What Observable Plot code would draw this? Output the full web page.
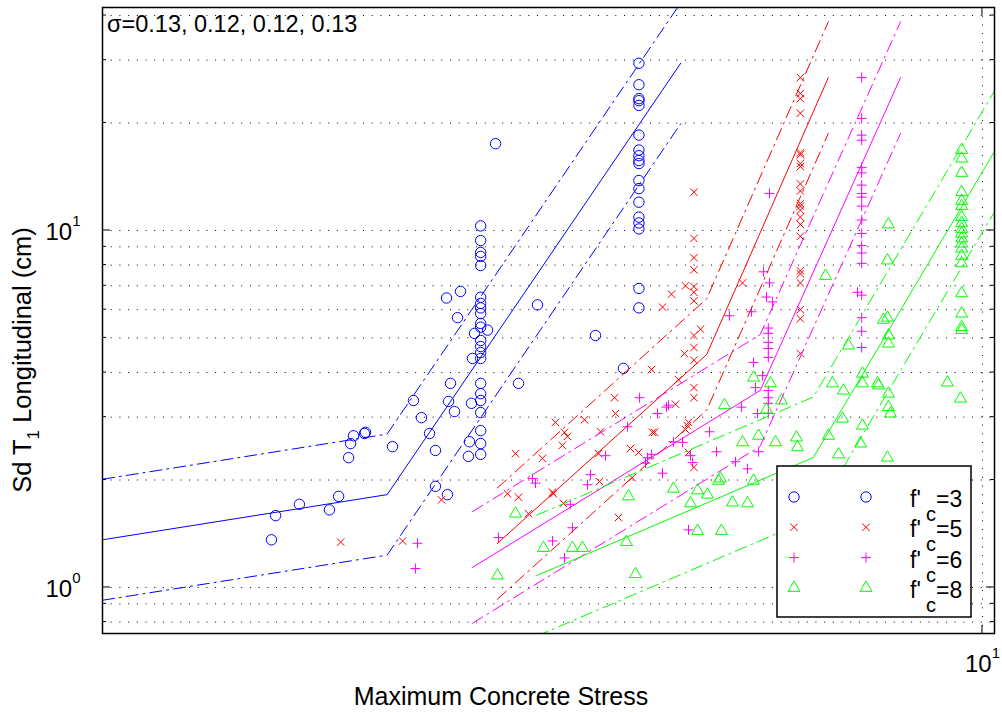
<!DOCTYPE html>
<html><head><meta charset="utf-8">
<script src="https://cdn.jsdelivr.net/npm/d3@7"></script>
<script src="https://cdn.jsdelivr.net/npm/@observablehq/plot@0.6"></script>
<style>html,body{margin:0;padding:0;background:#fff}svg{display:block}</style>
</head><body>
<script>
// ---------------- data ----------------
const xTicks = [10];
const yTicks = [1, 10];
const yMinor = [0.8, 0.9, 2, 3, 4, 5, 6, 7, 8, 9, 20, 30, 40];
const yGrid = [0.8, 0.9, 1, 2, 3, 4, 5, 6, 7, 8, 9, 10, 20, 30, 40];
const sigmaText = "σ=0.13, 0.12, 0.12, 0.13";
const seriesNames = ["3", "5", "6", "8"];

// f'c = 3 (blue circles)
const fc3Points = [
  [1.556,1.36],[1.573,1.59],[1.674,1.71],[1.811,1.65],[1.855,1.80],
  [1.904,2.31],[1.914,2.53],[1.929,2.66],[1.985,2.70],[1.99,2.72],
  [2.136,2.48],[2.256,3.34],[2.304,2.99],[2.353,2.70],[2.39,2.42],[2.39,1.92],[2.466,1.82],
  [2.46,6.47],[2.486,3.73],[2.473,3.32],[2.512,3.11],[2.532,5.70],[2.552,6.75],
  [2.612,2.56],[2.605,2.33],[2.626,3.28],[2.647,5.15],[2.633,4.38],[2.739,5.26],
  [2.69,10.3],[2.69,9.37],[2.69,8.68],[2.69,8.46],[2.69,7.98],[2.69,6.50],[2.69,6.25],[2.69,6.07],
  [2.69,5.85],[2.69,5.49],[2.69,5.36],[2.69,4.92],[2.69,4.73],[2.69,4.55],[2.69,4.38],[2.69,3.73],
  [2.69,3.49],[2.69,3.34],[2.69,3.09],[2.69,2.75],[2.69,2.53],[2.69,2.36],
  [2.797,17.5],[3.121,6.19],[3.633,5.08],[2.97,3.73],[3.908,4.11],
  [4.07,29.4],[4.07,25.6],[4.07,23.4],[4.07,23.1],[4.07,22.4],[4.07,18.5],[4.07,16.8],[4.07,16.2],
  [4.07,15.7],[4.07,15.4],[4.07,13.8],[4.07,13.1],[4.07,12.0],[4.07,10.9],[4.07,10.5],[4.07,10.1],
  [4.07,6.88],[4.07,6.07]
];
// f'c = 5 (red crosses)
const fc5Points = [
  [1.865,1.34],[2.193,1.35],[2.428,1.76],
  [2.886,1.83],[2.947,2.37],[2.97,1.79],[3.254,1.83],[3.162,2.30],[3.271,2.90],[3.35,2.72],[3.376,2.65],[3.331,2.50],
  [3.53,2.95],[3.681,2.73],[3.818,3.40],[3.828,3.07],[3.662,2.37],[3.671,1.98],
  [3.049,1.61],[3.34,1.72],[3.246,1.85],[3.858,1.57],
  [3.981,2.45],[4.066,2.39],[3.998,2.03],
  [4.207,4.08],[4.217,2.72],[4.24,2.72],[4.329,6.10],[4.432,6.63],[4.479,3.26],[4.514,3.82],
  [4.585,4.52],[4.597,7.00],[4.621,2.84],[4.634,2.90],[4.597,2.77],[4.634,2.39],
  [4.70,12.8],[4.70,9.50],[4.70,8.39],[4.70,7.76],[4.70,6.96],[4.70,6.71],[4.70,6.35],[4.70,5.08],
  [4.70,4.70],[4.70,4.33],[4.70,3.63],[4.70,3.40],[4.70,2.17],
  [4.782,5.29],[5.337,7.13],
  [6.21,26.8],[6.21,24.2],[6.21,23.4],[6.21,21.3],[6.21,16.5],[6.21,16.3],[6.21,15.4],[6.21,15.1],
  [6.21,13.5],[6.21,12.9],[6.21,11.9],[6.21,11.7],[6.21,11.4],[6.21,10.9],[6.21,10.4],[6.21,9.63],
  [6.21,7.71],[6.21,7.56],[6.21,7.13],[6.21,6.00],[6.21,5.66],[6.21,4.52]
];
// f'c = 6 (magenta plus)
const fc6Points = [
  [2.268,1.13],[2.28,1.33],[2.818,1.38],[3.081,2.02],[3.105,1.96],[3.246,1.35],[3.35,1.21],[3.402,1.71],[3.42,1.47],
  [3.558,1.94],[3.586,2.07],[3.729,2.34],[3.95,2.82],[4.077,3.40],[4.141,2.23],[4.163,2.31],[4.207,2.36],
  [4.273,3.07],[4.329,2.09],[4.375,3.20],[4.397,3.24],[4.455,2.56],[4.562,2.55],[4.659,2.34],[4.684,2.24],[4.634,1.45],
  [4.896,2.73],[4.986,2.40],[5.158,5.77],[5.24,2.25],[5.322,3.20],[5.408,2.15],[5.465,5.92],[5.494,4.27],
  [5.521,3.63],[5.551,3.07],[5.566,2.40],[5.623,3.92],[5.638,7.66],[5.683,6.51],[5.728,7.13],[5.728,12.7],[5.772,6.31],
  [5.71,5.33],[5.71,5.15],[5.71,4.86],[5.71,4.67],[5.71,4.41],[5.71,3.56],[5.71,3.40],[5.71,3.28],[5.71,3.07],
  [7.211,6.71],
  [7.29,26.8],[7.29,20.6],[7.29,18.5],[7.29,17.9],[7.29,15.0],[7.29,14.5],[7.29,13.4],[7.29,12.7],
  [7.29,12.4],[7.29,11.7],[7.29,10.7],[7.29,9.81],[7.29,9.07],[7.29,8.65],[7.29,8.09],[7.29,6.59],
  [7.29,5.70],[7.29,5.22],[7.29,4.70]
];
// f'c = 8 (green triangles)
const fc8Points = [
  [2.811,1.08],[2.947,1.61],[3.171,1.29],[3.42,1.29],[3.511,1.29],[3.939,1.34],[3.96,1.80],[4.034,1.09],
  [4.455,1.89],[4.659,1.72],[4.745,1.87],[4.745,1.44],[4.87,1.82],[5.012,1.99],[5.038,2.02],[5.051,1.44],
  [5.091,3.24],[5.199,1.73],[5.337,2.55],[5.408,1.72],[5.494,3.87],[5.494,1.99],[5.566,2.66],[5.683,3.15],
  [5.742,3.73],[5.818,2.55],[5.91,3.34],[6.146,2.63],[6.163,2.47],[6.632,7.46],[6.683,2.66],[6.753,3.73],
  [6.862,2.36],[6.934,2.97],[6.95,3.56],[7.042,4.76],[7.268,2.53],[7.305,3.97],[7.305,3.73],[7.305,2.84],
  [7.598,3.73],[7.618,3.68],[7.718,5.62],[7.798,5.70],[7.82,10.4],[7.798,8.24],[7.82,5.08],[7.82,4.82],
  [7.82,3.49],[7.82,3.20],[7.861,3.07],[7.798,2.31],[9.125,3.75],[9.441,3.38],
  [9.47,16.8],[9.47,15.9],[9.47,14.5],[9.47,12.8],[9.47,12.1],[9.47,11.7],[9.47,10.9],[9.47,10.5],
  [9.47,10.1],[9.47,9.81],[9.47,9.50],[9.47,9.19],[9.47,8.90],[9.47,8.49],[9.47,8.09],[9.47,6.67],
  [9.47,5.85],[9.47,5.36],[9.47,5.26]
];

// bilinear fits (median) and bounds
const fc3Median = [[1.0,1.36],[2.106,1.82],[4.54,29.4]];
const fc3Upper  = [[1.0,2.01],[2.106,2.69],[4.54,43.4]];
const fc3Lower  = [[1.0,0.921],[2.106,1.232],[4.54,19.9]];
const fc5Median = [[2.81,1.328],[4.86,4.495],[6.68,26.8]];
const fc5Upper  = [[2.81,1.90],[4.86,6.44],[6.68,38.4]];
const fc5Lower  = [[2.81,0.927],[4.86,3.14],[6.68,18.7]];
const fc6Median = [[2.633,1.138],[5.59,3.563],[8.07,26.8]];
const fc6Upper  = [[2.633,1.631],[5.59,5.11],[8.07,38.4]];
const fc6Lower  = [[2.633,0.794],[5.59,2.486],[8.07,18.7]];
const fc8Median = [[3.115,1.080],[6.425,2.313],[10.32,16.65]];
const fc8Upper  = [[3.115,1.595],[6.425,3.416],[10.32,24.6]];
const fc8Lower  = [[3.115,0.731],[6.425,1.566],[10.32,11.27]];

// ---------------- styling ----------------
const FONT = "'Liberation Sans', Arial, Helvetica, sans-serif";
const colors = ["#0000ff", "#ff0000", "#ff00ff", "#00ff00"];
const symbols = ["circle", "times", "plus", "triangle2"];
const radii = [5.2, 3.5, 3.3, 5.7];
const dashDot = "12,5,2,5";
const M = {left: 102, right: 8, top: 7, bottom: 79};
const W = 1002, H = 712;

const pointSets = [fc3Points, fc5Points, fc6Points, fc8Points];
const lineSets = [
  [fc3Median, fc3Upper, fc3Lower],
  [fc5Median, fc5Upper, fc5Lower],
  [fc6Median, fc6Upper, fc6Lower],
  [fc8Median, fc8Upper, fc8Lower]
];

const marks = [
  Plot.ruleY(yGrid, {stroke: "#000", strokeWidth: 1, strokeDasharray: "1,7.7"}),
  Plot.ruleX(xTicks, {stroke: "#000", strokeWidth: 1, strokeDasharray: "1,7.7"})
];
pointSets.forEach((pts, i) => {
  marks.push(Plot.dot(pts, {x: d => d[0], y: d => d[1], symbol: symbols[i], r: radii[i],
    stroke: colors[i], fill: "none", strokeWidth: 1, clip: true}));
});
lineSets.forEach((set, i) => {
  set.forEach((ln, j) => {
    marks.push(Plot.line(ln, {x: d => d[0], y: d => d[1], stroke: colors[i], strokeWidth: 1,
      strokeDasharray: j === 0 ? null : dashDot, clip: true}));
  });
});
marks.push(Plot.frame({stroke: "#000", strokeWidth: 1.5}));
marks.push(Plot.axisY(yTicks, {tickSize: 0, tickPadding: 22, fontSize: 24, dy: 2, label: null,
  tickFormat: d => "10^" + Math.round(Math.log10(d))}));
marks.push(Plot.axisX(xTicks, {tickSize: 0, tickPadding: 21, fontSize: 24, label: null,
  tickFormat: d => "10^" + Math.round(Math.log10(d))}));

const plot = Plot.plot({
  width: W, height: H,
  marginLeft: M.left, marginRight: M.right, marginTop: M.top, marginBottom: M.bottom,
  style: {fontFamily: FONT, background: "#fff", color: "#000", overflow: "visible"},
  x: {type: "log", domain: [1, 10.32]},
  y: {type: "log", domain: [0.7432, 42.13]},
  marks
});
document.body.appendChild(plot);

const svg = d3.select(plot);
// superscript exponents on tick labels
svg.selectAll('g[aria-label="y-axis tick label"] text, g[aria-label="x-axis tick label"] text').each(function () {
  const parts = this.textContent.split("^");
  const t = d3.select(this);
  t.text(parts[0]);
  t.append("tspan").attr("dy", -14).attr("font-size", 15).text(parts[1]);
});

// inward ticks
const sx = plot.scale("x"), sy = plot.scale("y");
const x0 = M.left, x1 = W - M.right, y0 = M.top, y1 = H - M.bottom;
const tg = svg.append("g").attr("stroke", "#000").attr("stroke-width", 1);
const seg = (a, b, c, d) => tg.append("line").attr("x1", a).attr("y1", b).attr("x2", c).attr("y2", d);
yMinor.forEach(v => { const y = sy.apply(v); seg(x0, y, x0 + 4, y); seg(x1, y, x1 - 4, y); });
yTicks.forEach(v => { const y = sy.apply(v); seg(x0, y, x0 + 8, y); seg(x1, y, x1 - 8, y); });
xTicks.forEach(v => { const x = sx.apply(v); seg(x, y1, x, y1 - 8); seg(x, y0, x, y0 + 8); });

// texts
const txt = svg.append("g").attr("font-family", FONT).attr("fill", "#000");
txt.append("text").attr("x", 107).attr("y", 32).attr("text-anchor", "start").attr("font-size", 23.5).text(sigmaText);
txt.append("text").attr("x", 501).attr("y", 705).attr("text-anchor", "middle").attr("font-size", 25)
  .text("Maximum Concrete Stress");
const yl = txt.append("text").attr("transform", "translate(31,360) rotate(-90)")
  .attr("text-anchor", "middle").attr("font-size", 25.5);
yl.append("tspan").text("Sd T");
yl.append("tspan").attr("dy", 8).attr("font-size", 17).text("1");
yl.append("tspan").attr("dy", -8).text(" Longitudinal (cm)");

// legend
const lg = svg.append("g").attr("font-family", FONT);
lg.append("rect").attr("x", 777).attr("y", 466).attr("width", 194).attr("height", 151)
  .attr("fill", "#fff").attr("stroke", "#000").attr("stroke-width", 1.5);
const d3sym = {circle: d3.symbolCircle, times: d3.symbolTimes, plus: d3.symbolPlus, triangle2: d3.symbolTriangle2};
seriesNames.forEach((name, i) => {
  const cy = 497 + 30.3 * i;
  const path = d3.symbol(d3sym[symbols[i]], Math.PI * radii[i] * radii[i])();
  [794, 866].forEach(cx => lg.append("path").attr("d", path).attr("transform", `translate(${cx},${cy})`)
    .attr("fill", "none").attr("stroke", colors[i]).attr("stroke-width", 1));
  const by = cy + 10;
  const t = lg.append("text").attr("y", by).attr("text-anchor", "start").attr("font-size", 23).attr("fill", "#000");
  t.append("tspan").attr("x", 910).text("f'");
  t.append("tspan").attr("x", 926).attr("dy", 14).attr("font-size", 20).text("c");
  t.append("tspan").attr("x", 936).attr("dy", -14).text("=" + name);
});
</script>
</body></html>
